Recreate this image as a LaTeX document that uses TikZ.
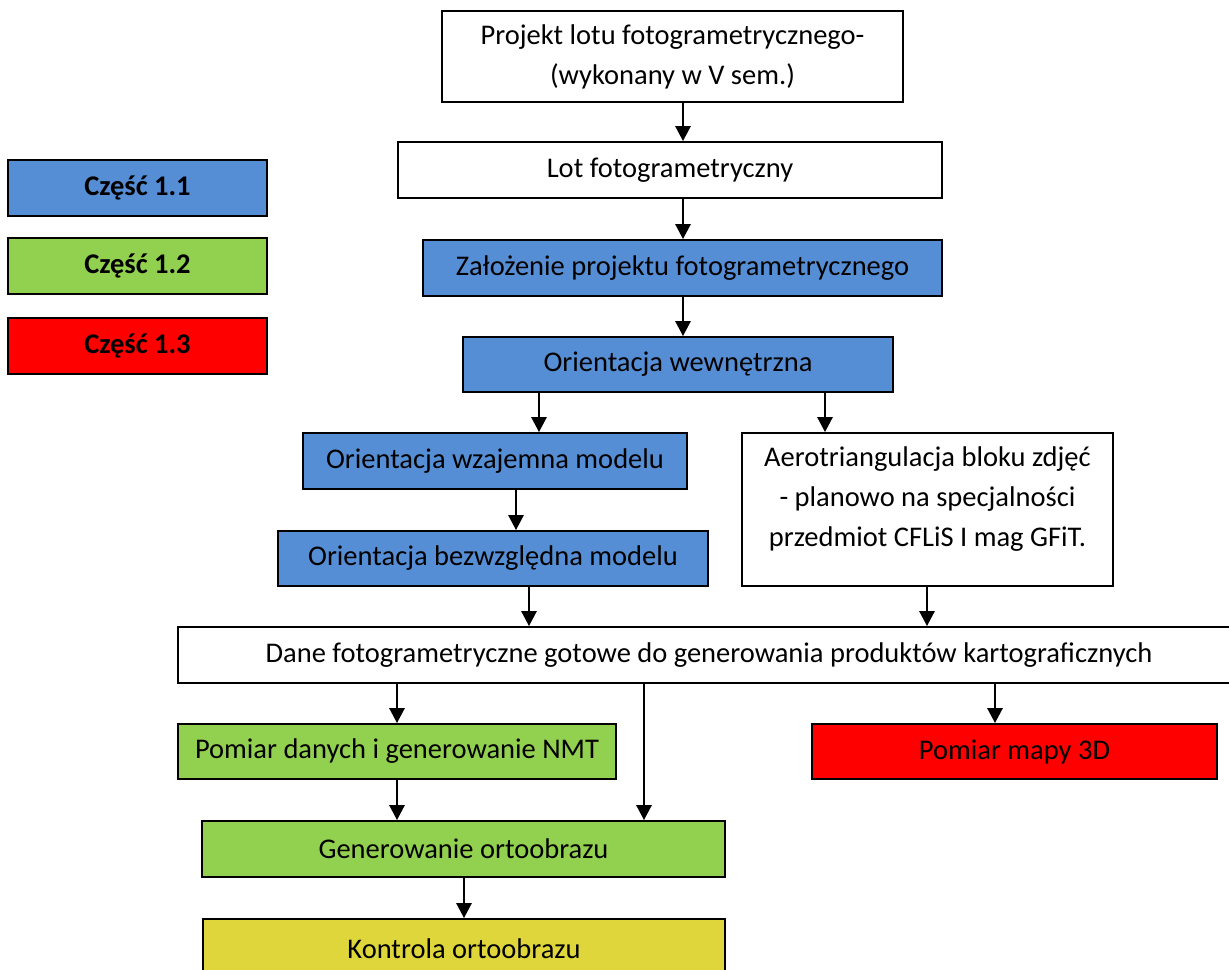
\documentclass[tikz,border=0pt]{standalone}
\usepackage{fontspec}
\setmainfont{Carlito}
\usetikzlibrary{arrows.meta}

\definecolor{partblue}{RGB}{85,142,213}
\definecolor{partgreen}{RGB}{146,208,80}
\definecolor{partred}{RGB}{255,0,0}
\definecolor{partyellow}{RGB}{223,214,60}

\newcommand{\pxunit}{0.4pt}
\tikzstyle{stage}=[draw,line width=0.8pt,rectangle,inner sep=0pt,font=\fontsize{11.4}{16}\selectfont]
\tikzstyle{legend}=[stage,font=\fontsize{11.4}{16}\selectfont\bfseries]
\tikzstyle{flow}=[draw,line width=0.6pt,-{Triangle[width=6.2pt,length=6pt]}]
\tikzset{boxsize/.style 2 args={minimum width=#1*\pxunit, minimum height=#2*\pxunit}}

\begin{document}
\begin{tikzpicture}[x=\pxunit, y=-\pxunit]
    \useasboundingbox (0,0) rectangle (1229,969);
    % Legend of the parts
    \foreach \y/\name/\col/\num in {188/czesc1/partblue/1.1, 266/czesc2/partgreen/1.2, 345.5/czesc3/partred/1.3}
        \node[legend, fill=\col, boxsize={259}{56}] (\name) at (137.5,\y) {Część \num};
    % Stages of the work
    \node[stage, align=center, boxsize={461}{91}] (proj) at (672.5,56.5) {Projekt lotu fotogrametrycznego-\\(wykonany w V sem.)};
    \node[stage, boxsize={544}{56}] (lot) at (670,170) {Lot fotogrametryczny};
    \node[stage, fill=partblue, boxsize={519}{56}] (zal) at (682.5,268) {Założenie projektu fotogrametrycznego};
    \node[stage, fill=partblue, boxsize={430}{55}] (wew) at (678,364.5) {Orientacja wewnętrzna};
    \node[stage, fill=partblue, boxsize={384}{56}] (wza) at (495,461) {Orientacja wzajemna modelu};
    \node[stage, align=center, boxsize={371}{153}] (aero) at (927.5,509.5) {Aerotriangulacja bloku zdjęć\\- planowo na specjalności\\przedmiot CFLiS I mag GFiT.\\[-6pt]};
    \node[stage, fill=partblue, boxsize={430}{55}] (bez) at (493,558.5) {Orientacja bezwzględna modelu};
    \node[stage, boxsize={1102}{56}] (dane) at (729,655) {\hspace*{-16pt}Dane fotogrametryczne gotowe do generowania produktów kartograficznych};
    \node[stage, fill=partgreen, boxsize={438}{55}] (nmt) at (397,751.5) {Pomiar danych i generowanie NMT};
    \node[stage, fill=partred, boxsize={405}{55}] (mapa) at (1014.5,751.5) {Pomiar mapy 3D};
    \node[stage, fill=partgreen, boxsize={523}{56}] (orto) at (463.5,849) {Generowanie ortoobrazu};
    \node[stage, fill=partyellow, boxsize={522}{60}] (kontr) at (464,949) {Kontrola ortoobrazu};
    % Connect the stages with arrows
    \foreach \source/\dest/\x in {proj/lot/683, lot/zal/683, zal/wew/683, wew/wza/539, wew/aero/825,
                                  wza/bez/516, bez/dane/529, aero/dane/927, dane/nmt/397, dane/orto/644,
                                  dane/mapa/995, nmt/orto/397, orto/kontr/464}
        \path[flow] (\source.south -| \x,0) -- (\dest.north -| \x,0);
\end{tikzpicture}
\end{document}
